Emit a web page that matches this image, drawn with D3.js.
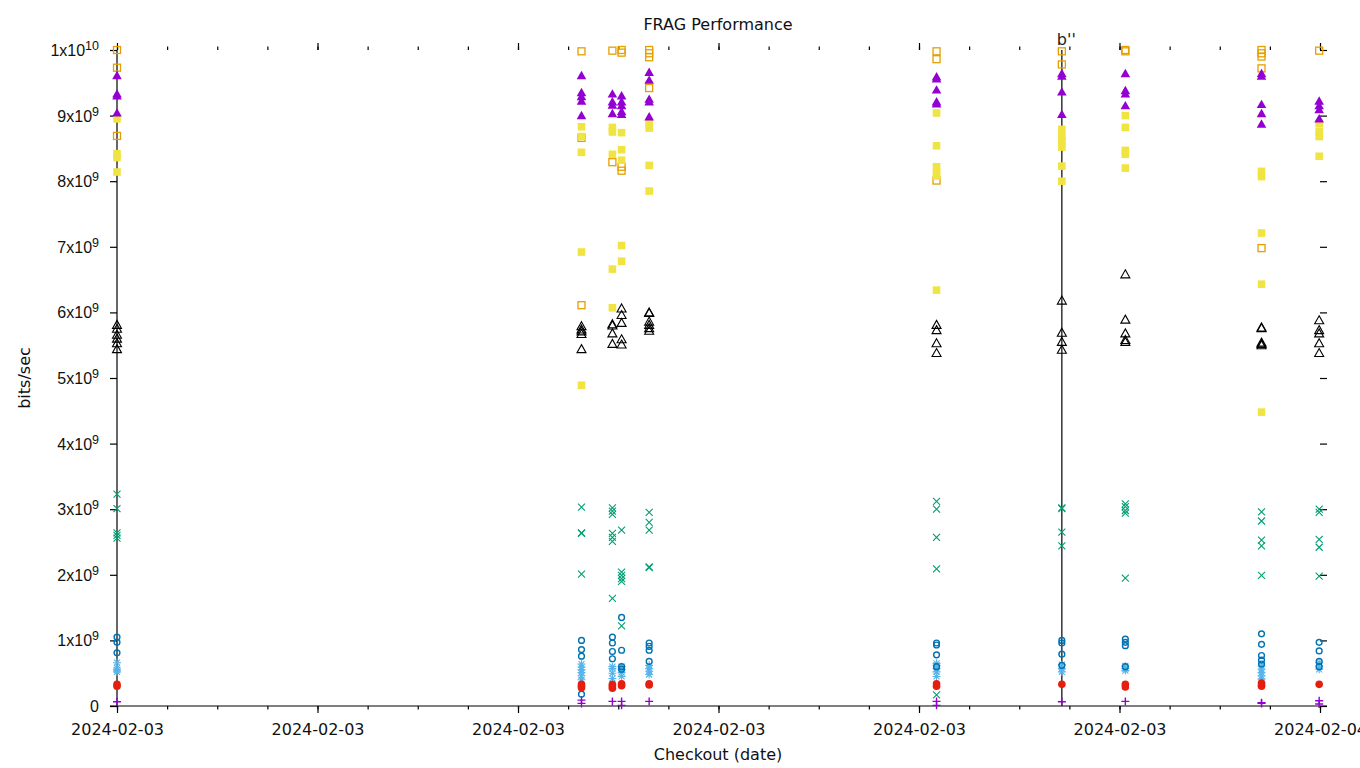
<!DOCTYPE html>
<html>
<head>
<meta charset="utf-8">
<script src="https://cdn.jsdelivr.net/npm/d3@7"></script>
<style>
  html, body { margin: 0; padding: 0; background: #fff; }
  svg { display: block; font-family: "DejaVu Sans", sans-serif; }
</style>
</head>
<body>
<svg id="chart" width="1360" height="768"></svg>
<script>
// ---------------- data (values in units of 1e9 bits/sec) ----------------
const chartTitle = "FRAG Performance";
const xLabel = "Checkout (date)";
const yLabel = "bits/sec";
const markerLabel = "b''";

const checkoutTimes = [
  "2024-02-03T00:00", "2024-02-03T09:16", "2024-02-03T09:53", "2024-02-03T10:04",
  "2024-02-03T10:37", "2024-02-03T16:21", "2024-02-03T18:51", "2024-02-03T20:07",
  "2024-02-03T22:50", "2024-02-03T23:59"
];
const markerLineTimes = ["2024-02-03T00:00", "2024-02-03T18:51"];
const markerLineLabels = ["", markerLabel];

const yTickValues = [0, 1, 2, 3, 4, 5, 6, 7, 8, 9, 10];
const yTickMantissa = ["0", "1x10", "2x10", "3x10", "4x10", "5x10", "6x10", "7x10", "8x10", "9x10", "1x10"];
const yTickExponent = ["", "9", "9", "9", "9", "9", "9", "9", "9", "9", "10"];

// series 1: purple "+"
const seriesPlus = [
  [0.065], [0.09, 0.04], [0.07], [0.07, 0.01], [0.07],
  [0.07, 0.01], [0.065], [0.07], [0.05, 0.04], [0.08, 0.03]
];
// series 2: green "x"
const seriesCross = [
  [3.23, 3.01, 2.64, 2.60, 2.56],
  [3.03, 2.64, 2.63, 2.01],
  [3.02, 2.97, 2.92, 2.63, 2.57, 2.51, 1.64],
  [2.68, 2.04, 1.99, 1.94, 1.90, 1.22],
  [2.95, 2.80, 2.68, 2.12, 2.11],
  [3.12, 3.00, 2.57, 2.09, 0.17],
  [3.02, 3.01, 2.65, 2.44],
  [3.08, 3.04, 2.98, 2.94, 1.95],
  [2.96, 2.82, 2.53, 2.44, 1.99],
  [3.00, 2.95, 2.54, 2.42, 1.98]
];
// series 3: light blue "*"
const seriesStar = [
  [0.66, 0.58, 0.55, 0.52],
  [0.64, 0.59, 0.55, 0.51, 0.46, 0.40],
  [0.60, 0.57, 0.50, 0.42],
  [0.60, 0.56, 0.51, 0.45],
  [0.62, 0.57, 0.53, 0.48],
  [0.65, 0.62, 0.57, 0.52, 0.45],
  [0.63, 0.57, 0.52],
  [0.61, 0.57, 0.54],
  [0.61, 0.56, 0.51, 0.46, 0.41],
  [0.66, 0.61, 0.56]
];
// series 4: orange open square
const seriesOpenSquare = [
  [10.0, 9.73, 8.69],
  [9.98, 8.66, 6.11],
  [9.99, 8.29],
  [10.0, 9.96, 8.22, 8.16],
  [10.0, 9.95, 9.89, 9.42],
  [9.98, 9.86, 8.01],
  [9.98, 9.78],
  [10.0, 9.98],
  [10.0, 9.95, 9.90, 9.72, 6.98],
  [9.99]
];
// series 5: yellow filled square
const seriesFilledSquare = [
  [8.95, 8.42, 8.36, 8.14],
  [8.83, 8.68, 8.44, 6.92, 4.89],
  [8.82, 8.75, 8.41, 6.66, 6.07],
  [8.74, 8.48, 8.32, 7.02, 6.78],
  [8.88, 8.81, 8.24, 7.85],
  [9.04, 8.54, 8.22, 8.14, 8.08, 6.34],
  [8.79, 8.68, 8.60, 8.52, 8.23, 8.00],
  [9.00, 8.82, 8.47, 8.41, 8.20],
  [8.15, 8.07, 7.21, 6.43, 4.48],
  [8.88, 8.76, 8.68, 8.38]
];
// series 6: blue open circle
const seriesOpenCircle = [
  [1.05, 0.97, 0.81],
  [1.00, 0.86, 0.76, 0.18],
  [1.05, 0.96, 0.83, 0.72],
  [1.35, 0.85, 0.60, 0.56],
  [0.96, 0.91, 0.85, 0.68],
  [0.96, 0.93, 0.78, 0.60],
  [1.00, 0.96, 0.79, 0.62],
  [1.02, 0.97, 0.92, 0.60],
  [1.10, 0.94, 0.77, 0.70, 0.64],
  [0.97, 0.84, 0.68, 0.60]
];
// series 7: red filled circle
const seriesFilledCircle = [
  [0.33, 0.30], [0.33, 0.30, 0.28], [0.33, 0.30, 0.27], [0.34, 0.31], [0.34, 0.32],
  [0.34, 0.30], [0.33], [0.33, 0.29], [0.35, 0.32, 0.30], [0.33]
];
// series 8: black open triangle
const seriesOpenTriangle = [
  [5.81, 5.75, 5.66, 5.60, 5.53, 5.44],
  [5.79, 5.74, 5.71, 5.67, 5.44],
  [5.82, 5.80, 5.68, 5.52],
  [6.06, 5.96, 5.84, 5.59, 5.51],
  [6.00, 5.99, 5.86, 5.81, 5.76, 5.72],
  [5.81, 5.73, 5.53, 5.38],
  [6.18, 5.69, 5.55, 5.43],
  [6.58, 5.89, 5.68, 5.58, 5.55],
  [5.77, 5.76, 5.54, 5.52, 5.50],
  [5.88, 5.73, 5.68, 5.53, 5.38]
];
// series 9: purple filled triangle
const seriesFilledTriangle = [
  [9.61, 9.33, 9.30, 9.04],
  [9.61, 9.35, 9.29, 9.22, 9.00],
  [9.33, 9.21, 9.16, 9.03],
  [9.30, 9.21, 9.15, 9.06, 9.02],
  [9.66, 9.54, 9.25, 9.21, 8.98],
  [9.59, 9.56, 9.39, 9.21, 9.18],
  [9.64, 9.60, 9.36, 9.02],
  [9.64, 9.38, 9.33, 9.15],
  [9.64, 9.60, 9.17, 9.03, 8.87],
  [9.22, 9.15, 9.09, 8.95]
];

const UNIT = 1e9;
const seriesList = [
  { values: seriesPlus,           shape: "plus",     color: "#9400d3" },
  { values: seriesCross,          shape: "cross",    color: "#009e73" },
  { values: seriesStar,           shape: "star",     color: "#56b4e9" },
  { values: seriesOpenSquare,     shape: "osquare",  color: "#e69f00" },
  { values: seriesFilledSquare,   shape: "fsquare",  color: "#f0e442" },
  { values: seriesOpenCircle,     shape: "ocircle",  color: "#0072b2" },
  { values: seriesFilledCircle,   shape: "fcircle",  color: "#e51e10" },
  { values: seriesOpenTriangle,   shape: "otri",     color: "#000000" },
  { values: seriesFilledTriangle, shape: "ftri",     color: "#9400d3" }
];

// ---------------- layout ----------------
const parseT = d3.timeParse("%Y-%m-%dT%H:%M");
const plotLeft = 117, plotRight = 1320, plotTop = 50, plotBottom = 706;
const svg = d3.select("#chart");

const x = d3.scaleTime()
  .domain([parseT("2024-02-03T00:00"), parseT("2024-02-04T00:00")])
  .range([plotLeft, plotRight]);
const y = d3.scaleLinear().domain([0, 10 * UNIT]).range([plotBottom, plotTop]);

const black = "#000";
const fontSize = 16;

// marker lines (behind points)
markerLineTimes.forEach((t, i) => {
  const xv = x(parseT(t));
  svg.append("line")
    .attr("x1", xv).attr("x2", xv)
    .attr("y1", y(10 * UNIT)).attr("y2", y(0))
    .attr("stroke", black).attr("stroke-width", 1.2);
  if (markerLineLabels[i]) {
    svg.append("text")
      .attr("x", xv - 5).attr("y", plotTop - 5)
      .attr("font-size", fontSize).attr("fill", "#222")
      .text(markerLineLabels[i]);
  }
});

// bottom border line
svg.append("line")
  .attr("x1", plotLeft - 7).attr("x2", plotRight + 7)
  .attr("y1", plotBottom).attr("y2", plotBottom)
  .attr("stroke", black).attr("stroke-width", 1.2);

// x axes
const tStart = parseT("2024-02-03T00:00");
const tEnd = new Date(parseT("2024-02-04T00:00").getTime() + 1);
const majorTicks = d3.timeHour.every(4).range(tStart, tEnd);
const minorTicks = d3.timeHour.every(1).range(tStart, tEnd);

function styleAxis(g) {
  g.select(".domain").remove();
  g.selectAll(".tick line").attr("stroke", black).attr("stroke-width", 1.2);
}

const xBottom = svg.append("g").attr("transform", `translate(0,${plotBottom})`)
  .call(d3.axisBottom(x).tickValues(majorTicks).tickSize(7).tickSizeOuter(0)
    .tickFormat(d3.timeFormat("%Y-%m-%d")))
  .call(styleAxis);
xBottom.selectAll(".tick text")
  .attr("y", 29).attr("dy", 0)
  .attr("font-size", fontSize).attr("font-family", "DejaVu Sans").attr("fill", "#111");

svg.append("g").attr("transform", `translate(0,${plotBottom})`)
  .call(d3.axisBottom(x).tickValues(minorTicks).tickSize(3.5).tickSizeOuter(0).tickFormat(""))
  .call(styleAxis);

svg.append("g").attr("transform", `translate(0,${plotTop})`)
  .call(d3.axisTop(x).tickValues(majorTicks).tickSize(7).tickSizeOuter(0).tickFormat(""))
  .call(styleAxis);
svg.append("g").attr("transform", `translate(0,${plotTop})`)
  .call(d3.axisTop(x).tickValues(minorTicks).tickSize(3.5).tickSizeOuter(0).tickFormat(""))
  .call(styleAxis);

// y axes
const yLeft = svg.append("g").attr("transform", `translate(${plotLeft},0)`)
  .call(d3.axisLeft(y).tickValues(yTickValues.map(v => v * UNIT)).tickSize(7).tickSizeOuter(0).tickFormat(""))
  .call(styleAxis);
yLeft.selectAll(".tick").each(function(d, i) {
  const t = d3.select(this).append("text")
    .attr("x", -18).attr("y", 5.5)
    .attr("text-anchor", "end")
    .attr("font-size", fontSize).attr("fill", "#111");
  t.append("tspan").text(yTickMantissa[i]);
  if (yTickExponent[i]) {
    t.append("tspan").attr("dy", -6).attr("font-size", 12.5).text(yTickExponent[i]);
  }
});

svg.append("g").attr("transform", `translate(${plotRight + 7},0)`)
  .call(d3.axisLeft(y).tickValues(yTickValues.map(v => v * UNIT)).tickSize(7).tickSizeOuter(0).tickFormat(""))
  .call(styleAxis);

// titles
svg.append("text").attr("x", 718).attr("y", 30).attr("text-anchor", "middle")
  .attr("font-size", fontSize).attr("fill", "#111").text(chartTitle);
svg.append("text").attr("x", 718).attr("y", 760).attr("text-anchor", "middle")
  .attr("font-size", fontSize).attr("fill", "#111").text(xLabel);
svg.append("text").attr("transform", "translate(30,378) rotate(-90)").attr("text-anchor", "middle")
  .attr("font-size", fontSize).attr("fill", "#111").text(yLabel);

// ---------------- points ----------------
function drawMarker(g, shape, color, cx, cy) {
  const sw = 1.1;
  if (shape === "plus") {
    g.append("path").attr("d", `M${cx - 4},${cy}H${cx + 4}M${cx},${cy - 4}V${cy + 4}`)
      .attr("stroke", color).attr("stroke-width", sw + 0.3).attr("fill", "none");
  } else if (shape === "cross") {
    g.append("path").attr("d", `M${cx - 3.5},${cy - 3.5}L${cx + 3.5},${cy + 3.5}M${cx - 3.5},${cy + 3.5}L${cx + 3.5},${cy - 3.5}`)
      .attr("stroke", color).attr("stroke-width", sw).attr("fill", "none");
  } else if (shape === "star") {
    g.append("path").attr("d", `M${cx - 4},${cy}H${cx + 4}M${cx},${cy - 4}V${cy + 4}M${cx - 3},${cy - 3}L${cx + 3},${cy + 3}M${cx - 3},${cy + 3}L${cx + 3},${cy - 3}`)
      .attr("stroke", color).attr("stroke-width", sw).attr("fill", "none");
  } else if (shape === "osquare") {
    g.append("rect").attr("x", cx - 3.5).attr("y", cy - 3.5).attr("width", 7).attr("height", 7)
      .attr("stroke", color).attr("stroke-width", sw + 0.2).attr("fill", "none");
  } else if (shape === "fsquare") {
    g.append("rect").attr("x", cx - 3.8).attr("y", cy - 3.8).attr("width", 7.6).attr("height", 7.6)
      .attr("fill", color);
  } else if (shape === "ocircle") {
    g.append("circle").attr("cx", cx).attr("cy", cy).attr("r", 2.9)
      .attr("stroke", color).attr("stroke-width", sw + 0.3).attr("fill", "none");
  } else if (shape === "fcircle") {
    g.append("circle").attr("cx", cx).attr("cy", cy).attr("r", 3.8).attr("fill", color);
  } else if (shape === "otri") {
    g.append("path").attr("d", `M${cx},${cy - 4.5}L${cx + 4.5},${cy + 3.5}L${cx - 4.5},${cy + 3.5}Z`)
      .attr("stroke", color).attr("stroke-width", sw).attr("fill", "none");
  } else if (shape === "ftri") {
    g.append("path").attr("d", `M${cx},${cy - 4.8}L${cx + 4.8},${cy + 3.6}L${cx - 4.8},${cy + 3.6}Z`)
      .attr("fill", color);
  }
}

seriesList.forEach(s => {
  const g = svg.append("g");
  s.values.forEach((vals, ci) => {
    const cx = x(parseT(checkoutTimes[ci]));
    vals.forEach(v => drawMarker(g, s.shape, s.color, cx, y(v * UNIT)));
  });
});
</script>
</body>
</html>
